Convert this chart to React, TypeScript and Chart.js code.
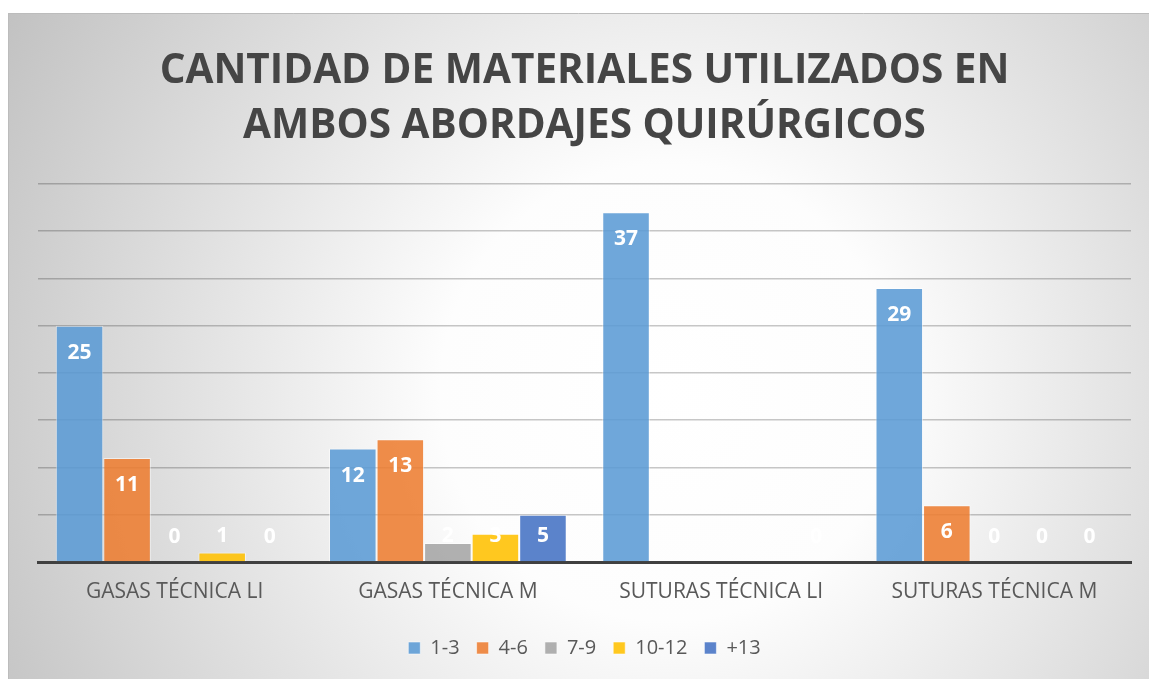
import React, { useEffect, useRef } from 'react';
import { Chart, registerables } from 'chart.js';

Chart.register(...registerables);

const titleLines = ['CANTIDAD DE MATERIALES UTILIZADOS EN', 'AMBOS ABORDAJES QUIRÚRGICOS'];
const categories = ['GASAS TÉCNICA LI', 'GASAS TÉCNICA M', 'SUTURAS TÉCNICA LI', 'SUTURAS TÉCNICA M'];
const seriesNames = ['1-3', '4-6', '7-9', '10-12', '+13'];
const values1to3 = [25, 12, 37, 29];
const values4to6 = [11, 13, null, 6];
const values7to9 = [0, 2, null, 0];
const values10to12 = [1, 3, null, 0];
const values13plus = [0, 5, 0, 0];
const seriesColors = [
  'rgba(91,155,213,0.88)',
  'rgba(237,125,49,0.88)',
  'rgba(165,165,165,0.88)',
  'rgba(255,192,0,0.88)',
  'rgba(68,114,196,0.88)',
];
const yMax = 40;
const yStep = 5;

const W = 1141;
const H = 666;

const backgroundPlugin = {
  id: 'bgFrame',
  beforeDraw(chart: any) {
    const { ctx, width, height } = chart;
    ctx.save();
    const cx = 660, cy = 380;
    const g = ctx.createRadialGradient(cx, cy, 0, cx, cy, 760);
    g.addColorStop(0, '#ffffff');
    g.addColorStop(0.3, '#fdfdfd');
    g.addColorStop(1, '#c2c2c2');
    ctx.fillStyle = g;
    ctx.fillRect(0, 0, width, height);
    ctx.strokeStyle = '#bcbcbc';
    ctx.lineWidth = 1;
    ctx.beginPath();
    ctx.moveTo(0, 0.5);
    ctx.lineTo(width, 0.5);
    ctx.moveTo(0.5, 0);
    ctx.lineTo(0.5, height);
    ctx.stroke();
    ctx.restore();
  },
};

const labelPlugin = {
  id: 'barValueLabels',
  afterDatasetsDraw(chart: any) {
    const { ctx } = chart;
    ctx.save();
    ctx.font = 'bold 21px "Open Sans"';
    ctx.fillStyle = '#ffffff';
    ctx.textAlign = 'center';
    ctx.textBaseline = 'middle';
    chart.data.datasets.forEach((ds: any, di: number) => {
      const meta = chart.getDatasetMeta(di);
      meta.data.forEach((el: any, i: number) => {
        const v = ds.data[i];
        if (v === null || v === undefined) return;
        const y = Math.min(el.y + 27, el.base - 25);
        ctx.fillText(String(v), el.x, y);
      });
    });
    ctx.restore();
  },
};

export default function App() {
  const ref = useRef<HTMLCanvasElement>(null);

  useEffect(() => {
    if (!ref.current) return;
    const seriesData = [values1to3, values4to6, values7to9, values10to12, values13plus];
    const chart = new Chart(ref.current, {
      type: 'bar',
      data: {
        labels: categories,
        datasets: seriesNames.map((name, i) => ({
          label: name,
          data: seriesData[i],
          backgroundColor: seriesColors[i],
          borderColor: 'rgba(255,255,255,0.55)',
          borderWidth: 1,
          barPercentage: 1,
          categoryPercentage: 0.87,
        })),
      },
      options: {
        responsive: false,
        animation: false,
        layout: { padding: { left: 30, right: 18, top: 0, bottom: 11 } },
        plugins: {
          title: {
            display: true,
            text: titleLines,
            color: '#454545',
            font: { family: '"Open Sans"', size: 40.5, weight: 'bold', lineHeight: 1.35 },
            padding: { top: 31, bottom: 30.6 },
          },
          legend: {
            position: 'bottom',
            labels: {
              color: '#595959',
              font: { family: '"Open Sans"', size: 20 },
              boxWidth: 12,
              boxHeight: 12,
              padding: 17,
            },
          },
          tooltip: { enabled: false },
        },
        scales: {
          x: {
            grid: { display: false, drawTicks: false },
            border: { display: true, color: '#404040', width: 3 },
            ticks: {
              color: '#595959',
              font: { family: '"Open Sans"', size: 21 },
              padding: 17,
              maxRotation: 0,
            },
            afterFit(scale: any) {
              scale.height = 59;
            },
          },
          y: {
            min: 0,
            max: yMax,
            ticks: { display: false, stepSize: yStep },
            grid: { color: 'rgba(0,0,0,0.22)', lineWidth: 1.5, drawTicks: false },
            border: { display: false },
          },
        },
      },
      plugins: [backgroundPlugin, labelPlugin],
    } as any);
    return () => chart.destroy();
  }, []);

  return (
    <div style={{ position: 'absolute', left: 8, top: 13, width: W, height: H }}>
      <canvas ref={ref} width={W} height={H} style={{ display: 'block', width: W, height: H }} />
    </div>
  );
}
